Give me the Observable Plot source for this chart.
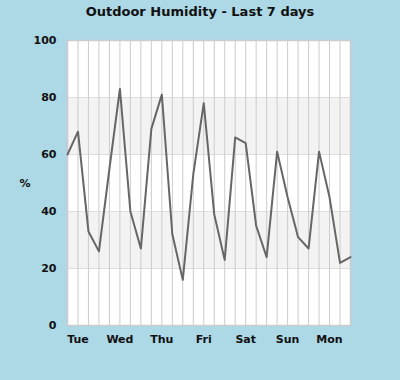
<!DOCTYPE html>
<html>
<head>
<meta charset="utf-8">
<script src="https://cdn.jsdelivr.net/npm/d3@7"></script>
<script src="https://cdn.jsdelivr.net/npm/@observablehq/plot@0.6"></script>
<style>
  html, body { margin: 0; padding: 0; background: #add8e6; width: 400px; height: 380px; overflow: hidden; }
  #title { height: 22px; line-height: 18px; text-align: center; font: bold 13px "DejaVu Sans", sans-serif; color: #111; padding-top: 4px; box-sizing: border-box; }
</style>
</head>
<body>
<div id="title">Outdoor Humidity - Last 7 days</div>
<div id="chart"></div>
<script>
// Humidity readings every 6 hours over the last 7 days (index 0..27)
const humidity = [60, 68, 33, 26, 55, 83, 40, 27, 69, 81, 32, 16, 53, 78, 39, 23, 66, 64, 35, 24, 61, 45, 31, 27, 61, 45, 22, 24];
const dayLabels = ["Tue", "Wed", "Thu", "Fri", "Sat", "Sun", "Mon"];
const dayTickIndex = [1, 5, 9, 13, 17, 21, 25];
const yTicks = [0, 20, 40, 60, 80, 100];
const bandLow = [20, 60];
const bandHigh = [40, 80];
const gridY = [20, 40, 60, 80];

const data = humidity.map((v, i) => ({i, v}));
const bands = bandLow.map((lo, k) => ({lo, hi: bandHigh[k]}));
const tickLabel = new Map(dayTickIndex.map((t, k) => [t, dayLabels[k]]));

const chart = Plot.plot({
  width: 400,
  height: 358,
  marginTop: 18,
  marginBottom: 55,
  marginLeft: 67,
  marginRight: 50,
  style: {background: "transparent", fontFamily: "DejaVu Sans, sans-serif"},
  x: {domain: [0, humidity.length - 1]},
  y: {domain: [0, 100]},
  marks: [
    Plot.frame({fill: "white"}),
    Plot.rectY(bands, {x1: 0, x2: humidity.length - 1, y1: "lo", y2: "hi", fill: "#f3f3f3"}),
    Plot.ruleY(gridY, {stroke: "#dddddd", strokeWidth: 1}),
    Plot.ruleX(data, {x: "i", stroke: "#cccccc", strokeWidth: 1}),
    Plot.frame({stroke: "#cccccc", strokeWidth: 1.5}),
    Plot.line(data, {x: "i", y: "v", stroke: "#666666", strokeWidth: 2}),
    Plot.axisY({ticks: yTicks, tickSize: 0, tickPadding: 11, label: null, fontSize: 11, fontWeight: "bold", fill: "#111"}),
    Plot.axisX({ticks: dayTickIndex, tickFormat: d => tickLabel.get(d), tickSize: 0, tickPadding: 10, label: null, fontSize: 11, fontWeight: "bold", fill: "#111"}),
    Plot.text(["%"], {frameAnchor: "left", y: 50, dx: -48, text: d => d, fontSize: 11, fontWeight: "bold", fill: "#111"})
  ]
});
document.getElementById("chart").appendChild(chart);
</script>
</body>
</html>
